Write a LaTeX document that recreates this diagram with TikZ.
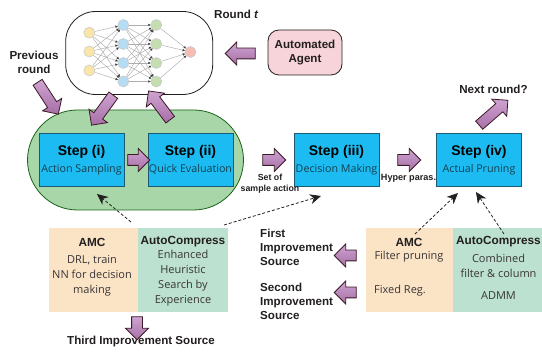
\documentclass[tikz,border=0pt]{standalone}
\usepackage{fontspec}
\setmainfont{Liberation Sans}
\newfontfamily\bodyfont{Open Sans}
\usetikzlibrary{shapes.arrows,arrows.meta,shadings}
\definecolor{inkc}{HTML}{231F20}
\definecolor{stepblue}{HTML}{1CBCF2}
\definecolor{stepline}{HTML}{1D5A72}
\definecolor{blobgreen}{HTML}{A9D6A8}
\definecolor{beige}{HTML}{FBE4C6}
\definecolor{teal2}{HTML}{BCE1D0}
\definecolor{agentpink}{HTML}{F7D3DA}
\definecolor{nny}{HTML}{FBE5A9}
\definecolor{nnb}{HTML}{B5DCF2}
\definecolor{nng}{HTML}{C5DEB0}
\definecolor{nnp}{HTML}{F6BDB5}
\definecolor{purpledark}{HTML}{A66FA6}
\definecolor{purplelight}{HTML}{CFA3D2}
\tikzset{
  x=1pt,y=-1pt,
  lab/.style={font=\fontsize{11.6}{14}\selectfont\bfseries,text=inkc,inner sep=0pt,align=center},
  smalllab/.style={font=\fontsize{8.8}{11.3}\selectfont\bfseries,text=inkc,inner sep=0pt,align=center},
  head/.style={font=\fontsize{11.8}{14}\selectfont\bfseries,text=inkc,inner sep=0pt},
  body/.style={font=\fontsize{11}{15}\selectfont\bodyfont,text=inkc!90,inner sep=0pt,align=center},
  stepbox/.style={draw=stepline,line width=0.9pt,fill=stepblue,minimum width=85pt,minimum height=53pt,inner sep=0pt,align=center},
  fat/.style={single arrow,draw=inkc!85!purple,line width=0.8pt,top color=purplelight,bottom color=purpledark,
     single arrow head extend=6pt,single arrow head indent=0pt,inner sep=0pt,text height=10pt,text depth=0pt,text width=0pt},
  dash arrow/.style={densely dashed,line width=0.8pt,draw=inkc,-{Stealth[length=11pt,width=10pt,inset=3.5pt]}},
  nnode/.style={circle,draw=black!22,line width=0.5pt,minimum size=11pt,inner sep=0pt},
  nnedge/.style={draw=black!32,line width=0.45pt,-{Latex[length=2.6pt,width=2.6pt,black!75]},shorten >=-0.3pt},
}
\newcommand{\steptext}[2]{{\fontsize{14}{16}\selectfont\bfseries #1}\\[4.5pt]{\fontsize{10.7}{12}\selectfont\bodyfont\color{stepline!70!black} #2}}
\begin{document}
\begin{tikzpicture}
\useasboundingbox (0,0) rectangle (542,352);
% containers
\node[draw=inkc,line width=0.8pt,fill=white,rounded corners=30pt,minimum width=147pt,minimum height=83pt,inner sep=0pt] (nnbox) at (139.2,53) {};
\node[draw=inkc!70!green,line width=0.8pt,fill=blobgreen,rounded corners=50pt,minimum width=216pt,minimum height=100pt,inner sep=0pt] (blob) at (135.5,160) {};
% network
\foreach \i/\y in {1/32.7,2/51.5,3/70.5}{\node[nnode,fill=nny] (a\i) at (89.3,\y) {};}
\foreach \i/\y in {1/25,2/44,3/63,4/81.5}{
  \node[nnode,fill=nnb] (b\i) at (123.3,\y) {};
  \node[nnode,fill=nng] (c\i) at (156.3,\y) {};
}
\node[nnode,fill=nnp] (d1) at (190.5,52) {};
\foreach \i in {1,2,3}{\foreach \j in {1,2,3,4}{\draw[nnedge] (a\i) -- (b\j);}}
\foreach \i in {1,2,3,4}{\foreach \j in {1,2,3,4}{\draw[nnedge] (b\i) -- (c\j);}}
\foreach \i in {1,2,3,4}{\draw[nnedge] (c\i) -- (d1);}
% steps
\node[stepbox] (s1) at (81.5,160) {\steptext{Step (i)}{Action Sampling}};
\node[stepbox] (s2) at (190.5,160) {\steptext{Step (ii)}{Quick Evaluation}};
\node[stepbox] (s3) at (336.5,160) {\steptext{Step (iii)}{Decision Making}};
\node[stepbox] (s4) at (479,160) {\steptext{Step (iv)}{Actual Pruning}};
% agent
\node[draw=inkc,line width=0.8pt,fill=agentpink,rounded corners=11pt,minimum width=74pt,minimum height=45pt,align=center,inner sep=0pt,lab] (agent) at (305,52.5) {Automated\\Agent};
% panels
\node[fill=beige,minimum width=89pt,minimum height=84pt,inner sep=0pt] (p1) at (93.5,270) {};
\node[fill=teal2,minimum width=90pt,minimum height=84pt,inner sep=0pt] (p2) at (183,270) {};
\node[fill=beige,minimum width=87pt,minimum height=84pt,inner sep=0pt] (p3) at (409.5,270) {};
\node[fill=teal2,minimum width=89pt,minimum height=84pt,inner sep=0pt] (p4) at (497.5,270) {};
% labels
\node[lab] (prev) at (34,62) {Previous\\round};
\node[lab,anchor=west] (roundt) at (214,14) {Round \textit{t}};
\node[lab] (next) at (493.5,89) {Next round?};
\node[smalllab] (setof) at (270,183.5) {Set of\\sample action};
\node[smalllab,font=\fontsize{9.1}{11}\selectfont\bfseries] (hyper) at (408.5,178) {Hyper paras.};
\node[head] (t1) at (92,242) {AMC};
\node[head] (t2) at (183,242) {AutoCompress};
\node[body] (b1t) at (92,276) {DRL, train\\NN for decision\\making};
\node[body] (b2t) at (183,278) {Enhanced\\Heuristic\\Search by\\Experience};
\node[head] (t3) at (409,242) {AMC};
\node[head] (t4) at (498.5,242) {AutoCompress};
\node[body] (f1) at (409,257) {Filter pruning};
\node[body,anchor=west] (f2) at (374,291) {Fixed Reg.};
\node[body] (f3) at (498.5,265.5) {Combined\\filter \& column};
\node[body] (f4) at (498.5,295.5) {ADMM};
\node[lab,anchor=west,align=left] (first) at (260,247) {First\\Improvement\\Source};
\node[lab,anchor=west,align=left] (second) at (260,301) {Second\\Improvement\\Source};
\node[lab] (third) at (141,342) {Third Improvement Source};
% block arrows
\node[fat,rotate=-57,minimum height=38pt] (ar1) at (46.5,96) {};
\node[fat,rotate=-126,minimum height=37pt] (ar2) at (104,108) {};
\node[fat,rotate=127,minimum height=36pt] (ar3) at (161,107.5) {};
\node[fat,rotate=180,minimum height=30pt] (ar4) at (243,53.5) {};
\node[fat,minimum height=22pt] (ar5) at (136,160) {};
\node[fat,minimum height=23pt] (ar6) at (271.5,160) {};
\node[fat,minimum height=23pt] (ar7) at (406.5,160) {};
\node[fat,rotate=41,minimum height=38pt] (ar8) at (491.5,114.5) {};
\node[fat,rotate=-90,minimum height=23pt] (ar9) at (137,325.5) {};
\node[fat,rotate=180,minimum height=22pt] (ar10) at (348,255.5) {};
\node[fat,rotate=180,minimum height=22pt] (ar11) at (348,292.5) {};
% dashed connectors
\coordinate (d1s) at (131,222);
\coordinate (d1e) at (97,194);
\coordinate (d2s) at (224,225);
\coordinate (d2e) at (321,196);
\coordinate (d3s) at (415,234);
\coordinate (d3e) at (458,193);
\coordinate (d4s) at (504,234);
\coordinate (d4e) at (476,192);
\draw[dash arrow] (d1s) -- (d1e);
\draw[dash arrow] (d2s) -- (d2e);
\draw[dash arrow] (d3s) -- (d3e);
\draw[dash arrow] (d4s) -- (d4e);
\end{tikzpicture}
\end{document}
